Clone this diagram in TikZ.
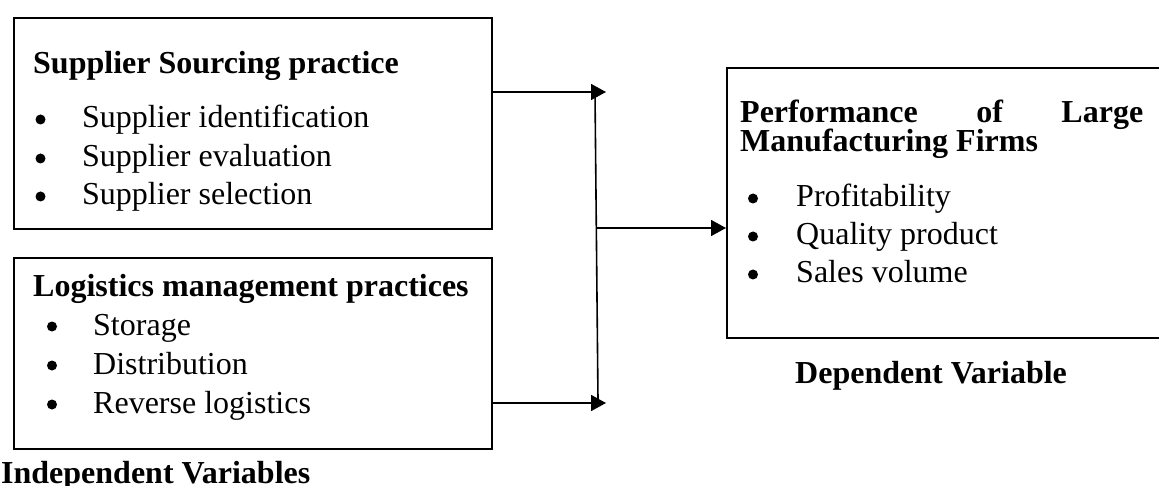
\documentclass[tikz,border=0pt]{standalone}
\usepackage{fontspec}
\setmainfont{Liberation Serif}
\usetikzlibrary{arrows.meta}
\begin{document}
\begin{tikzpicture}[x=1pt,y=-1pt,
  box/.style={draw,line width=1.6pt,anchor=north west,inner sep=0pt},
  txt/.style={anchor=base west,inner sep=0pt,font=\fontsize{32}{38}\selectfont},
  head/.style={anchor=base west,inner sep=0pt,font=\fontsize{32}{38}\selectfont\bfseries},
  bul/.style={circle,fill,inner sep=0pt,minimum size=10pt,yshift=8.5pt},
  conn/.style={line width=1.6pt},
  arr/.style={conn,-{Triangle[length=15pt,width=16pt]}}]
\useasboundingbox (0,0) rectangle (1159,486);
\clip (0,0) rectangle (1159,486);

% boxes
\node[box,minimum width=478pt,minimum height=211pt] (src) at (13,17) {};
\node[box,minimum width=478pt,minimum height=191pt] (log) at (13,257) {};
\node[box,minimum width=470pt,minimum height=270pt] (perf) at (726,67) {};

% supplier sourcing
\node[head] (srch) at (33,74) {Supplier Sourcing practice};
\node[bul] (srcb1) at (40.5,128) {};
\node[txt] (srct1) at (82,128) {Supplier identification};
\node[bul] (srcb2) at (40.5,167) {};
\node[txt] (srct2) at (82,167) {Supplier evaluation};
\node[bul] (srcb3) at (40.5,205) {};
\node[txt] (srct3) at (82,205) {Supplier selection};

% logistics
\node[head] (logh) at (33,297) {Logistics management practices};
\node[bul] (logb1) at (52,335) {};
\node[txt] (logt1) at (93,335) {Storage};
\node[bul] (logb2) at (52,374) {};
\node[txt] (logt2) at (93,374) {Distribution};
\node[bul] (logb3) at (52,413) {};
\node[txt] (logt3) at (93,413) {Reverse logistics};
\node[head] (indep) at (1,483) {Independent Variables};

% performance (justified two-line heading)
\node[head] (perfh1) at (740,123) {\hbox to 403pt{Performance\hfill of\hfill Large}};
\node[head] (perfh2) at (740,152) {Manufacturing Firms};
\node[bul] (perfb1) at (753,207) {};
\node[txt] (perft1) at (796,207) {Profitability};
\node[bul] (perfb2) at (753,245) {};
\node[txt] (perft2) at (796,245) {Quality product};
\node[bul] (perfb3) at (753,283) {};
\node[txt] (perft3) at (796,283) {Sales volume};
\node[head] (dep) at (795,383) {Dependent Variable};

% connectors
\coordinate (t1) at (606,92);
\coordinate (t2) at (606,403);
\coordinate (vtop) at (595,93);
\coordinate (vbot) at (598,400);
\coordinate (vmid) at (597,228);
\draw[arr] (src.east |- t1) -- (t1);
\draw[arr] (log.east |- t2) -- (t2);
\draw[conn] (vtop) -- (vbot);
\draw[arr] (vmid) -- (perf.west |- vmid);
\end{tikzpicture}
\end{document}
